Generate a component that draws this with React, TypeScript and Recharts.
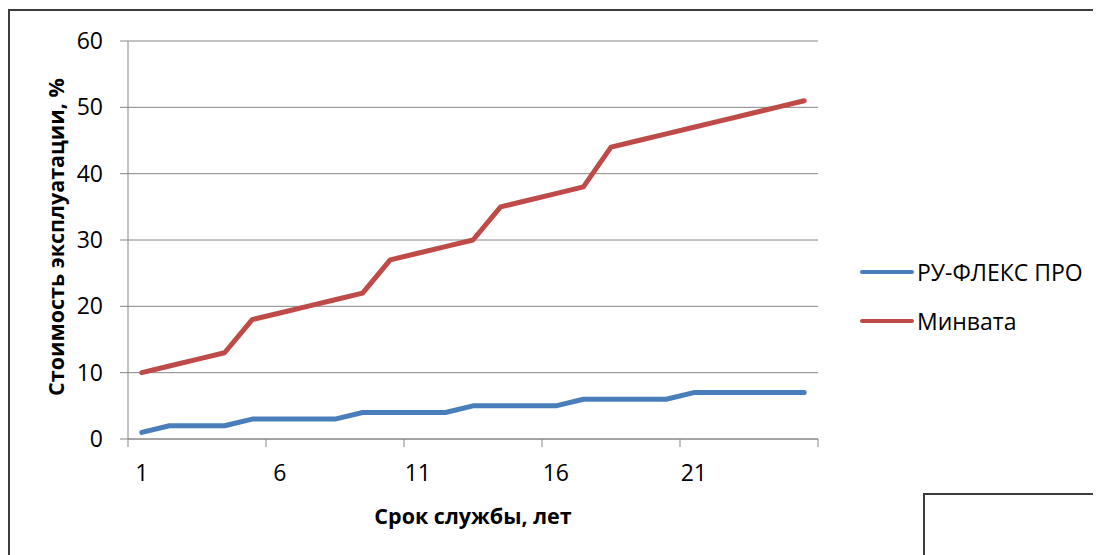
import React from "react";
import { LineChart, Line, XAxis, YAxis, CartesianGrid } from "recharts";

// срок службы, лет
const years = [1, 2, 3, 4, 5, 6, 7, 8, 9, 10, 11, 12, 13, 14, 15, 16, 17, 18, 19, 20, 21, 22, 23, 24, 25];
// стоимость эксплуатации, %
const ruFlex = [1, 2, 2, 2, 3, 3, 3, 3, 4, 4, 4, 4, 5, 5, 5, 5, 6, 6, 6, 6, 7, 7, 7, 7, 7];
const minvata = [10, 11, 12, 13, 18, 19, 20, 21, 22, 27, 28, 29, 30, 35, 36, 37, 38, 44, 45, 46, 47, 48, 49, 50, 51];
const yTicks = [0, 10, 20, 30, 40, 50, 60];
const LABEL_STEP = 5;

const series = [
  { key: "ruFlex", name: "РУ-ФЛЕКС ПРО", color: "#4a7ebb" },
  { key: "minvata", name: "Минвата", color: "#be4b48" },
];

const data = years.map((year, i) => ({ year, ruFlex: ruFlex[i], minvata: minvata[i] }));

const AXIS = "#868686";
const FONT = "'Open Sans', sans-serif";
const TICK_FONT = 23;
const TITLE_FONT = 21.5;
const PLOT_W = 690;
const HALF_BAND = PLOT_W / years.length / 2;

// Excel-style category tick: label on the category, mark on the boundary
function XTick(props: any) {
  const { x, y, payload, index } = props;
  const i = typeof index === "number" ? index : years.indexOf(payload.value);
  const showLabel = i % LABEL_STEP === 0;
  const isLast = i === years.length - 1;
  return (
    <g>
      {showLabel && <line x1={x - HALF_BAND} x2={x - HALF_BAND} y1={y} y2={y + 8} stroke={AXIS} />}
      {isLast && <line x1={x + HALF_BAND} x2={x + HALF_BAND} y1={y} y2={y + 8} stroke={AXIS} />}
      {showLabel && (
        <text x={x} y={y + 26} dy="0.71em" textAnchor="middle" fontSize={TICK_FONT} fill="#000" fontFamily={FONT}>
          {payload.value}
        </text>
      )}
    </g>
  );
}

function YTitle(props: any) {
  const vb = props.viewBox || { x: 0, y: 0, width: 0, height: 0 };
  const cx = vb.x + 33;
  const cy = vb.y + vb.height / 2 - 3;
  return (
    <text
      x={cx}
      y={cy}
      transform={`rotate(-90 ${cx} ${cy})`}
      textAnchor="middle"
      dominantBaseline="central"
      fontSize={TITLE_FONT}
      fontWeight={700}
      fill="#000"
      fontFamily={FONT}
    >
      Стоимость эксплуатации, %
    </text>
  );
}

export default function App() {
  return (
    <div style={styles.page}>
      <div style={styles.frame} />
      <div style={styles.cornerBox} />
      <div style={styles.chart}>
        <LineChart width={1093} height={547} data={data} margin={{ top: 33, right: 283, left: 14, bottom: 25 }}>
          <CartesianGrid vertical={false} stroke={AXIS} strokeWidth={1} />
          <XAxis
            dataKey="year"
            interval={0}
            height={91}
            padding={{ left: HALF_BAND, right: HALF_BAND }}
            axisLine={{ stroke: AXIS }}
            tickLine={false}
            tickSize={0}
            tickMargin={0}
            tick={<XTick />}
            label={{
              value: "Срок службы, лет",
              position: "insideBottom",
              offset: 6,
              fill: "#000",
              fontSize: TITLE_FONT,
              fontWeight: 700,
              fontFamily: FONT,
            }}
          />
          <YAxis
            width={106}
            domain={[0, 60]}
            ticks={yTicks}
            tickSize={8}
            tickMargin={17}
            axisLine={{ stroke: AXIS }}
            tickLine={{ stroke: AXIS }}
            tick={{ fill: "#000", fontSize: TICK_FONT, fontFamily: FONT }}
            label={{ content: (p: any) => <YTitle {...p} /> }}
          />
          {series.map((s) => (
            <Line
              key={s.key}
              type="linear"
              dataKey={s.key}
              name={s.name}
              stroke={s.color}
              strokeWidth={5}
              strokeLinecap="round"
              strokeLinejoin="round"
              dot={false}
              activeDot={false}
              isAnimationActive={false}
            />
          ))}
        </LineChart>
      </div>
      <div style={styles.legend}>
        {series.map((s) => (
          <div key={s.key} style={styles.legendItem}>
            <span style={{ ...styles.legendLine, background: s.color }} />
            <span>{s.name}</span>
          </div>
        ))}
      </div>
    </div>
  );
}

const styles: Record<string, React.CSSProperties> = {
  page: {
    position: "relative",
    width: 1093,
    height: 547,
    overflow: "hidden",
    fontFamily: FONT,
    background: "#fff",
  },
  frame: {
    position: "absolute",
    left: 0,
    top: 1,
    width: 1300,
    height: 800,
    border: "2px solid #3c3c3c",
  },
  cornerBox: {
    position: "absolute",
    left: 915,
    top: 485,
    width: 400,
    height: 300,
    border: "2px solid #3c3c3c",
    background: "#fff",
  },
  chart: { position: "absolute", left: 0, top: 0 },
  legend: {
    position: "absolute",
    left: 852,
    top: 239,
    fontSize: TICK_FONT,
    color: "#000",
    lineHeight: "32px",
  },
  legendItem: { display: "flex", alignItems: "center", height: 49 },
  legendLine: {
    display: "inline-block",
    width: 54,
    height: 4,
    borderRadius: 2,
    marginRight: 3,
  },
};
